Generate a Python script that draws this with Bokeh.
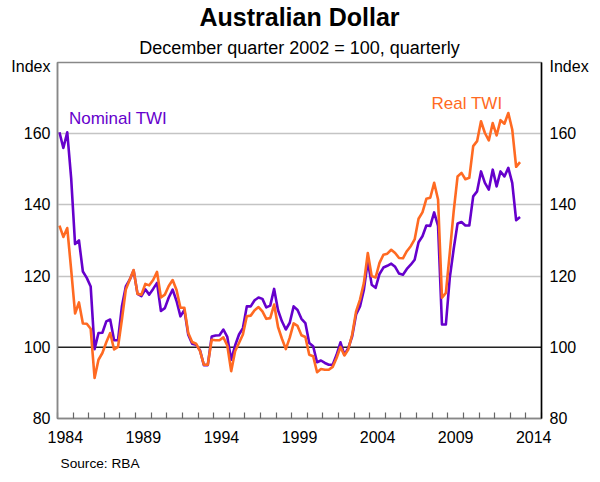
from bokeh.plotting import figure
from bokeh.models import ColumnDataSource, FixedTicker, LinearAxis, Span, Label, Range1d, Title
from bokeh.embed import file_html
from bokeh.resources import INLINE

# ---------------- data (quarterly, from 1984 Q1) ----------------
START_YEAR = 1984

nominal_twi = [
    160.4, 156.0, 160.4, 147.5, 129.0, 130.0, 121.3, 119.5, 117.1, 99.5,
    104.0, 104.1, 107.3, 107.8, 102.0, 102.0, 111.5, 117.1, 119.0, 121.6,
    115.0, 114.4, 116.3, 114.8, 116.4, 118.1, 110.2, 111.0, 114.0, 116.2,
    113.0, 108.7, 110.5, 103.5, 101.0, 100.7, 99.2, 95.0, 95.0, 103.0,
    103.3, 103.4, 105.0, 102.9, 96.5, 100.5, 103.6, 105.4, 111.5, 111.5,
    113.2, 114.0, 113.6, 111.2, 111.7, 116.4, 110.4, 107.3, 105.0, 106.9,
    111.5, 110.5, 108.0, 106.8, 101.2, 100.3, 95.8, 96.3, 95.6, 95.1,
    95.1, 97.9, 101.4, 97.9, 99.8, 103.1, 109.2, 111.5, 116.2, 124.2,
    117.6, 116.7, 120.6, 122.4, 122.9, 123.5, 122.6, 120.7, 120.4, 122.0,
    123.2, 124.6, 129.5, 131.2, 134.2, 134.1, 137.9, 134.1, 106.4, 106.4,
    119.5, 127.6, 134.8, 135.2, 134.2, 134.2, 142.4, 143.8, 149.4, 146.2,
    144.3, 149.9, 145.2, 149.4, 148.0, 150.4, 146.2, 135.7, 136.6,
]

real_twi = [
    134.2, 131.0, 133.5, 121.8, 109.5, 112.6, 106.7, 106.6, 105.2, 91.4,
    96.5, 98.4, 101.4, 104.0, 99.4, 100.1, 107.8, 116.2, 119.0, 121.7,
    115.0, 114.8, 117.8, 117.4, 118.9, 121.2, 114.0, 114.8, 117.2, 118.9,
    116.1, 111.1, 111.1, 104.0, 101.5, 101.0, 99.0, 95.1, 95.1, 102.1,
    102.0, 102.0, 102.8, 100.5, 93.3, 98.9, 101.2, 103.6, 108.7, 108.9,
    110.4, 111.3, 110.1, 108.0, 108.2, 112.0, 105.7, 102.4, 99.5, 102.7,
    106.7, 106.0, 103.4, 102.9, 97.9, 97.5, 93.0, 93.9, 93.7, 93.7,
    94.5, 97.0, 100.1, 97.7, 99.4, 103.6, 110.1, 113.4, 118.1, 126.5,
    120.0, 119.6, 123.7, 126.0, 126.3, 127.4, 126.5, 125.1, 125.0, 127.0,
    128.4, 130.3, 136.1, 137.9, 141.7, 142.0, 146.2, 141.5, 113.9, 115.3,
    126.5, 138.2, 148.0, 149.0, 147.2, 147.6, 156.5, 157.9, 163.5, 160.2,
    158.1, 163.0, 159.5, 163.8, 162.8, 165.8, 161.2, 150.7, 152.0,
]

x_label_years = [1984, 1989, 1994, 1999, 2004, 2009, 2014]
y_ticks = [80, 100, 120, 140, 160]
grid_levels = [120, 140, 160]
UNIT_LABEL = "Index"
UNIT_LABEL_LEVEL = 179   # where the "Index" heading sits on each y axis

# quarter mid-points
dates = [START_YEAR + (i + 0.5) / 4 for i in range(len(nominal_twi))]
src = ColumnDataSource(dict(date=dates, nominal=nominal_twi, real=real_twi))

FONT = "Liberation Sans"
PURPLE = "#6600cc"
ORANGE = "#ff6a22"

p = figure(width=592, height=482, output_backend="svg", toolbar_location=None,
           x_range=Range1d(1984, 2015), y_range=Range1d(80, 180),
           min_border_left=57, min_border_right=51, min_border_top=62,
           min_border_bottom=64, background_fill_color="white",
           border_fill_color="white")

p.outline_line_color = "#888888"
p.outline_line_width = 1.5

# titles (subtitle first so it sits next to the frame)
p.add_layout(Title(text="December quarter 2002 = 100, quarterly", align="center",
                   text_font=FONT, text_font_size="18px", text_font_style="normal",
                   text_color="black", standoff=10), "above")
p.add_layout(Title(text="Australian Dollar", align="center", text_font=FONT,
                   text_font_size="25px", text_font_style="bold",
                   text_color="black", standoff=0), "above")
p.add_layout(Title(text="Source: RBA", align="left", offset=3, text_font=FONT,
                   text_font_size="13.7px", text_font_style="normal",
                   text_color="black", standoff=16), "below")

# grid
p.xgrid.visible = False
p.ygrid.ticker = FixedTicker(ticks=grid_levels)
p.ygrid.grid_line_color = "#c4c4c4"
p.ygrid.grid_line_width = 1.5
p.add_layout(Span(location=100, dimension="width", line_color="#222222",
                  line_width=1.5, level="underlay"))

# x axis: year tick marks inside, labels centred on mid-year
xa = p.xaxis[0]
xa.ticker = FixedTicker(ticks=[y + 0.5 for y in x_label_years],
                        minor_ticks=list(range(1984, 2016)))
xa.major_label_overrides = {y + 0.5: str(y) for y in x_label_years}
xa.major_tick_in = 0
xa.major_tick_out = 0
xa.minor_tick_in = 6
xa.minor_tick_out = 0
xa.minor_tick_line_color = "#666666"
xa.minor_tick_line_width = 1.2
xa.axis_line_color = "#888888"
xa.axis_line_width = 1.5
xa.major_label_text_font = FONT
xa.major_label_text_font_size = "16px"
xa.major_label_text_color = "black"
xa.major_label_standoff = 12

def style_y_axis(ax, line_color, standoff):
    ax.ticker = FixedTicker(ticks=y_ticks + [UNIT_LABEL_LEVEL])
    ax.major_label_overrides = {UNIT_LABEL_LEVEL: UNIT_LABEL}
    ax.major_tick_in = 0
    ax.major_tick_out = 0
    ax.minor_tick_in = 0
    ax.minor_tick_out = 0
    ax.axis_line_color = line_color
    ax.axis_line_width = 1.5
    ax.major_label_text_font = FONT
    ax.major_label_text_font_size = "16px"
    ax.major_label_text_color = "black"
    ax.major_label_standoff = standoff

style_y_axis(p.yaxis[0], "#888888", 7)
ra = LinearAxis()
style_y_axis(ra, "black", 8)
p.add_layout(ra, "right")

# series
p.line(x="date", y="nominal", source=src, line_color=PURPLE, line_width=2.6,
       line_join="round")
p.line(x="date", y="real", source=src, line_color=ORANGE, line_width=2.6,
       line_join="round")

# series labels (inside the plot area)
p.add_layout(Label(x=1984.73, y=164.2, text="Nominal TWI", text_font=FONT,
                   text_font_size="17px", text_color=PURPLE,
                   text_baseline="middle"))
p.add_layout(Label(x=2007.96, y=168.4, text="Real TWI", text_font=FONT,
                   text_font_size="17px", text_color=ORANGE,
                   text_baseline="middle"))

open("out.html", "w").write(file_html(p, INLINE))
